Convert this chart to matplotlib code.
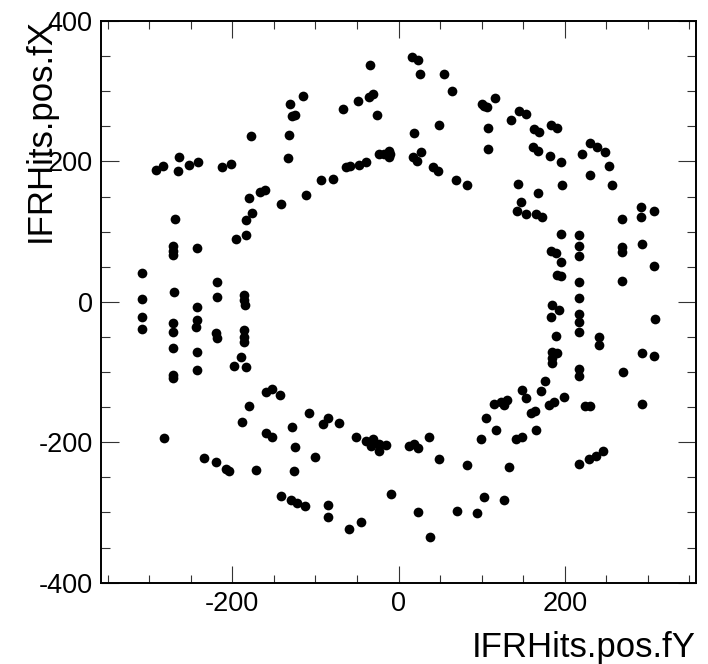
import matplotlib
matplotlib.use("Agg")
import matplotlib.pyplot as plt
from matplotlib.ticker import MultipleLocator, FixedLocator

plt.rcParams['font.family'] = ['Liberation Sans', 'DejaVu Sans']

# Hit positions: horizontal = IFRHits.pos.fY, vertical = IFRHits.pos.fX
pos_fY = [
    -34, -131, -115, -128, -124, -67, -49, -36, -31, -26, -177, -132, -133,
    -292, -283, -264, -265, -252, -241, -212, -202, -180, -167, -161, -141,
    -111, -93, -79, -63, -58, -47, -39, -24, -18, -11, -11, -10, -269, -176, -184,
    16, 23, 26, 55, 64, 19, 49, 103, 116, 100, 106, 108, 108, 135, 145, 153,
    163, 169, 183, 191, 162, 168, 182, 195, 221, 231, 239, 249, 253, 231, 257,
    197, 168, 144, 147, 143, 153, 165, 173, 269, 292, 308, 292, 17, 22, 27,
    41, 47, 69, 82,
    -196, -184, -271, -271, -271, -242, -309, -270, -218, -218, -309, -186,
    -186, -185, -243, -309, -309, -271, -271, -242, -244, -220, -218, -186,
    -186, -186, -271, -243, -271, -271, -243, -190, -198, -184, -160, -152, -142,
    195, 217, 217, 217, 183, 189, 195, 269, 269, 293, 308, 191, 195, 217, 269,
    217, 185, 193, 183, 217, 217, 217, 309, 189, 241, 241, 185, 185, 185, 191,
    293, 308, 217, 217, 270, 176, 171,
    -180, -188, -282, -160, -152, -128, -108, -91, -85, -71, -51, -39, -31,
    -23, -15, -23, -33, -125, -101, -234, -220, -208, -204, -172, -126, -141,
    -129, -122, -113, -85, -85, -59, -45, -9,
    13, 19, 23, 37, 49, 83, 99, 105, 117, 115, 123, 131, 127, 149, 153, 133,
    141, 149, 159, 164, 165, 181, 187, 199, 225, 230, 217, 229, 238, 246, 293,
    24, 38, 70, 94, 103, 127,
]

pos_fX = [
    338, 282, 293, 264, 266, 275, 286, 292, 296, 266, 236, 238, 205,
    188, 194, 207, 186, 195, 199, 192, 196, 148, 156, 160, 139,
    152, 173, 175, 192, 193, 195, 199, 211, 210, 215, 207, 211, 118, 126, 117,
    349, 344, 324, 325, 301, 241, 252, 279, 291, 282, 277, 248, 218, 259, 272, 268,
    246, 242, 252, 247, 221, 215, 208, 199, 211, 226, 220, 214, 193, 180, 166,
    166, 155, 168, 142, 130, 125, 125, 121, 118, 135, 130, 121, 206, 201, 213,
    192, 187, 174, 167,
    90, 95, 80, 73, 67, 77, 41, 14, 28, 7, 4, 10,
    2, -4, -7, -22, -39, -30, -43, -26, -36, -45, -52, -40,
    -50, -57, -66, -71, -104, -109, -97, -79, -92, -93, -128, -124, -132,
    97, 95, 80, 66, 73, 69, 57, 78, 71, 83, 51, 38, 37, 28, 30,
    6, -5, -12, -21, -17, -28, -43, -25, -49, -50, -62, -71, -80, -87, -73,
    -73, -77, -96, -106, -100, -113, -127,
    -148, -171, -194, -187, -192, -178, -158, -174, -165, -173, -192, -198, -195,
    -202, -204, -213, -206, -207, -221, -222, -228, -238, -241, -240, -241, -277,
    -282, -287, -291, -289, -306, -323, -314, -273,
    -206, -202, -208, -192, -224, -232, -196, -165, -183, -145, -143, -140, -147,
    -126, -137, -235,
    -196, -192, -158, -155, -182, -147, -143, -136, -149, -148, -231, -224, -219,
    -213, -146,
    -299, -335, -298, -301, -278, -282,
]

x_ticks = [-200, 0, 200]
y_ticks = [-400, -200, 0, 200, 400]

W, H = 708, 664
fig = plt.figure(figsize=(W / 100, H / 100), dpi=100)
ax = fig.add_axes([101 / W, (H - 582.7) / H, (696 - 101) / W, (582.7 - 21) / H])

ax.plot(pos_fY, pos_fX, linestyle='none', marker='o', markersize=7.0,
        markerfacecolor='black', markeredgewidth=0, color='black')

ax.set_xlim(-358, 358)
ax.set_ylim(-400, 400)
ax.xaxis.set_major_locator(FixedLocator(x_ticks))
ax.yaxis.set_major_locator(FixedLocator(y_ticks))
ax.xaxis.set_minor_locator(MultipleLocator(50))
ax.yaxis.set_minor_locator(MultipleLocator(50))
ax.set_xticklabels([str(v) for v in x_ticks])
ax.set_yticklabels([str(v) for v in y_ticks])

for s in ax.spines.values():
    s.set_linewidth(1.4)
    s.set_color('black')

ax.tick_params(axis='both', which='both', direction='in', top=True, right=True,
               width=0.8, color='#333333', labelsize=19.5, labelcolor='black')
ax.tick_params(axis='x', which='major', length=12.2, pad=6)
ax.tick_params(axis='x', which='minor', length=6)
ax.tick_params(axis='y', which='major', length=12.8, pad=6)
ax.tick_params(axis='y', which='minor', length=6.5)

fig.text(696 / W, 1 - 656.7 / H, 'IFRHits.pos.fY', ha='right', va='baseline',
         fontsize=25)
fig.text(50 / W, 1 - 18 / H, 'IFRHits.pos.fX', ha='right', va='baseline',
         rotation=90, rotation_mode='anchor', fontsize=25)

fig.savefig('out.png', dpi=100)
